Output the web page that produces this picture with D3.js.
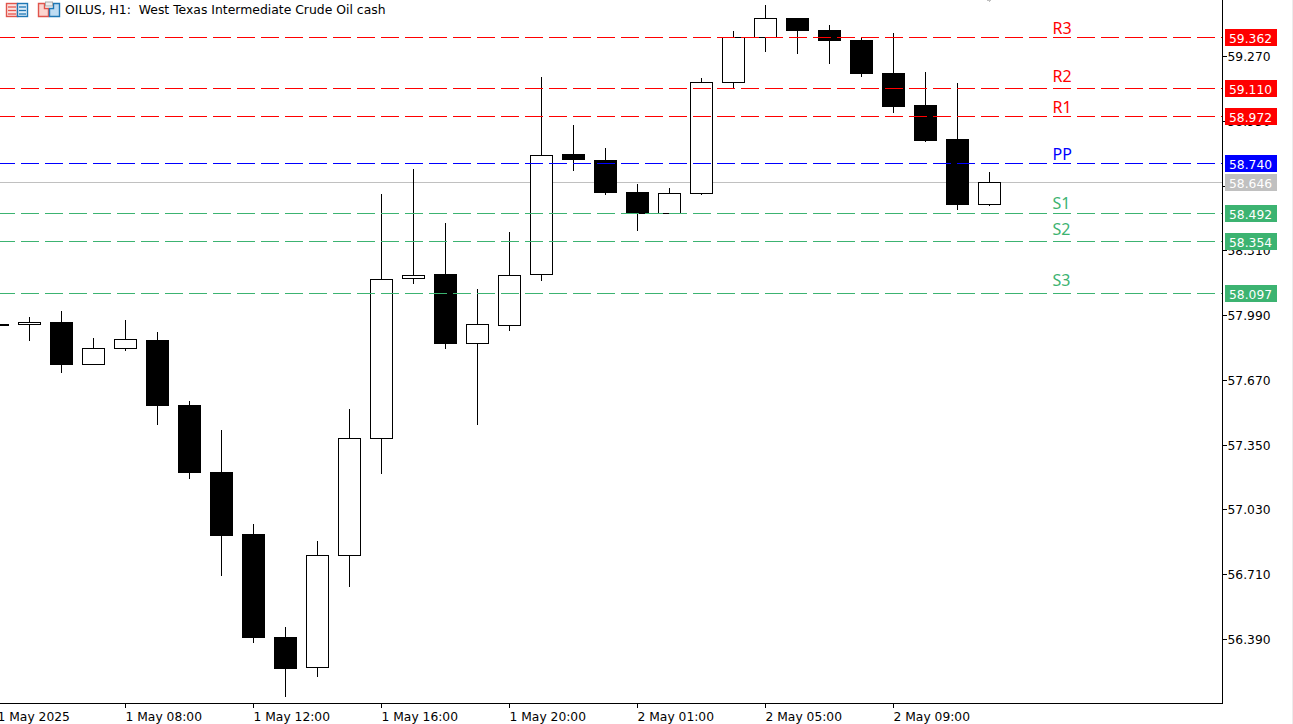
<!DOCTYPE html>
<html><head><meta charset="utf-8">
<script src="https://d3js.org/d3.v7.min.js"></script>
<style>html,body{margin:0;padding:0;background:#fff;overflow:hidden}svg{display:block}text{font-family:"DejaVu Sans",sans-serif;font-size:12.3px}</style>
</head><body><div id="c"></div>
<script>
const chartTitle = "OILUS, H1:  West Texas Intermediate Crude Oil cash";
// hourly candles, left to right
const opens  = [57.946,57.943,57.956,57.747,57.826,57.867,57.546,57.215,56.908,56.399,56.250,56.805,57.383,58.172,58.193,57.851,57.940,58.192,58.786,58.757,58.598,58.492,58.592,59.141,59.362,59.458,59.399,59.350,59.187,59.028,58.860,58.537];
const highs  = [57.946,57.981,58.010,57.877,57.966,57.907,57.566,57.422,56.958,56.449,56.874,57.526,58.589,58.712,58.445,58.119,58.401,59.167,58.930,58.816,58.638,58.618,59.162,59.394,59.523,59.458,59.424,59.362,59.384,59.192,59.137,58.697];
const lows   = [57.939,57.864,57.705,57.747,57.814,57.448,57.180,56.701,56.370,56.104,56.203,56.646,57.205,58.145,57.824,57.447,57.913,58.160,58.704,58.585,58.407,58.492,58.585,59.112,59.292,59.282,59.233,59.168,58.990,58.846,58.510,58.529];
const closes = [57.939,57.955,57.745,57.826,57.871,57.545,57.212,56.903,56.397,56.243,56.805,57.383,58.167,58.187,57.849,57.945,58.187,58.780,58.758,58.595,58.493,58.592,59.141,59.362,59.457,59.396,59.346,59.183,59.020,58.852,58.536,58.646];
const levelNames  = ["R3","R2","R1","PP","S1","S2","S3"];
const levelValues = [59.362,59.110,58.972,58.740,58.492,58.354,58.097];
const levelColors = ["#ff0000","#ff0000","#ff0000","#0000ff","#3cb371","#3cb371","#3cb371"];
const lastPrice = 58.646;
const priceTicks = [59.270,58.950,58.630,58.310,57.990,57.670,57.350,57.030,56.710,56.390];
const timeTickIndex = [0,4,8,12,16,20,24,28];
const timeTickLabels = ["1 May 2025","1 May 08:00","1 May 12:00","1 May 16:00","1 May 20:00","2 May 01:00","2 May 05:00","2 May 09:00"];

const W=1293,H=724,axisX=1222.5,axisY=703.5;
const labelLift=[3.5,6.5,3.5,3.5,4.5,6.5,7.5];
const svg=d3.select("#c").append("svg").attr("width",W).attr("height",H).attr("shape-rendering","crispEdges");
const x=d3.scaleLinear().domain([0,31]).range([-2.5,989.5]);
const y=d3.scaleLinear().domain([59.362,58.097]).range([37.5,293.5]);
const snap=v=>Math.floor(v+.25)+.5;

// window edge
svg.append("line").attr("x1",1292.5).attr("x2",1292.5).attr("y1",0).attr("y2",H).attr("stroke","#ececec");

// last price line is behind the candles
svg.append("line").attr("x1",0).attr("x2",axisX).attr("y1",snap(y(lastPrice))).attr("y2",snap(y(lastPrice))).attr("stroke","#c0c0c0");

// candles
const g=svg.append("g");
opens.forEach((o,i)=>{
  const c=closes[i],cx=x(i),t=snap(y(Math.max(o,c))),b=snap(y(Math.min(o,c))),bull=c>o;
  g.append("line").attr("x1",cx).attr("x2",cx).attr("y1",Math.round(y(highs[i]))).attr("y2",Math.round(y(lows[i]))).attr("stroke","#000");
  g.append("rect").attr("x",cx-11).attr("width",22).attr("y",t).attr("height",Math.max(1,b-t))
   .attr("fill",bull?"#fff":"#000").attr("stroke","#000");
});

// pivot levels
levelValues.forEach((v,i)=>{
  const py=snap(y(v));
  svg.append("line").attr("x1",0).attr("x2",axisX).attr("y1",py).attr("y2",py).attr("stroke",levelColors[i])
     .attr("stroke-dasharray","18 6").attr("stroke-dashoffset",3);
  svg.append("text").attr("x",1052.5).attr("y",py-labelLift[i]).attr("fill",levelColors[i])
     .style("font-family","'Noto Sans',sans-serif").style("font-size","16px").text(levelNames[i]);
});

// axes
const yAxis=d3.axisRight(y).tickValues(priceTicks).tickFormat(d3.format(".3f")).tickSize(4).tickPadding(1);
const ya=svg.append("g").attr("transform",`translate(${axisX},0)`).call(yAxis);
ya.select(".domain").attr("d",`M0,0V${axisY}`).attr("stroke","#000");
ya.selectAll("text").style("font-size","12.3px").attr("fill","#000").attr("dy","0.36em");
const xAxis=d3.axisBottom(x).tickValues(timeTickIndex).tickFormat((d,i)=>timeTickLabels[i]).tickSize(4).tickPadding(2).offset(0);
const xa=svg.append("g").attr("transform",`translate(0,${axisY})`).call(xAxis);
xa.select(".domain").attr("d",`M0,0H${axisX}`).attr("stroke","#000");
xa.selectAll("text").attr("text-anchor","start").attr("dy","0.9em").attr("fill","#000").style("font-size","12.3px");

// price tags
const tags=levelValues.map((v,i)=>({v,c:levelColors[i]})).concat([{v:lastPrice,c:"#c0c0c0"}]);
tags.forEach(d=>{
  const py=snap(y(d.v));
  svg.append("rect").attr("x",1225).attr("y",py-8.5).attr("width",52).attr("height",17).attr("fill",d.c).attr("stroke","none");
  svg.append("text").attr("x",1229).attr("y",py+5.5).attr("fill","#fff").text(d3.format(".3f")(d.v));
});

// title and toolbar icons
svg.append("text").attr("x",65).attr("y",14).attr("fill","#000").attr("xml:space","preserve").style("white-space","pre").style("font-size","12.4px").text(chartTitle);
const ic=svg.append("g").attr("shape-rendering","auto");
ic.append("rect").attr("x",6.5).attr("y",3.5).attr("width",11).attr("height",13).attr("fill","#fbe3e0").attr("stroke","#e0554d").attr("stroke-width",1.4);
ic.append("rect").attr("x",17.5).attr("y",3.5).attr("width",10).attr("height",13).attr("fill","#dcecf8").attr("stroke","#1f77b4").attr("stroke-width",1.4);
[7,10.5,14].forEach(o=>{
  ic.append("line").attr("x1",8).attr("x2",16).attr("y1",o).attr("y2",o).attr("stroke","#e8554e").attr("stroke-width",1.3);
  ic.append("line").attr("x1",19).attr("x2",26).attr("y1",o).attr("y2",o).attr("stroke","#1f77b4").attr("stroke-width",1.3);
});
ic.append("path").attr("d","M38.5,3.5H44.5V8.5H48.5V16.5H38.5Z").attr("fill","#fbd5d0").attr("stroke","#e0554d").attr("stroke-width",1.4);
ic.append("path").attr("d","M49.5,8.5H53.5V3.5H59.5V16.5H49.5Z").attr("fill","#bfdcf2").attr("stroke","#1f77b4").attr("stroke-width",1.4);
ic.append("rect").attr("x",45.5).attr("y",2).attr("width",7).attr("height",4).attr("fill","#eee").attr("stroke","#aaa");
svg.append("path").attr("d","M987,0.5H991M989,0V2").attr("stroke","#c0c0c0").attr("fill","none");
</script></body></html>
